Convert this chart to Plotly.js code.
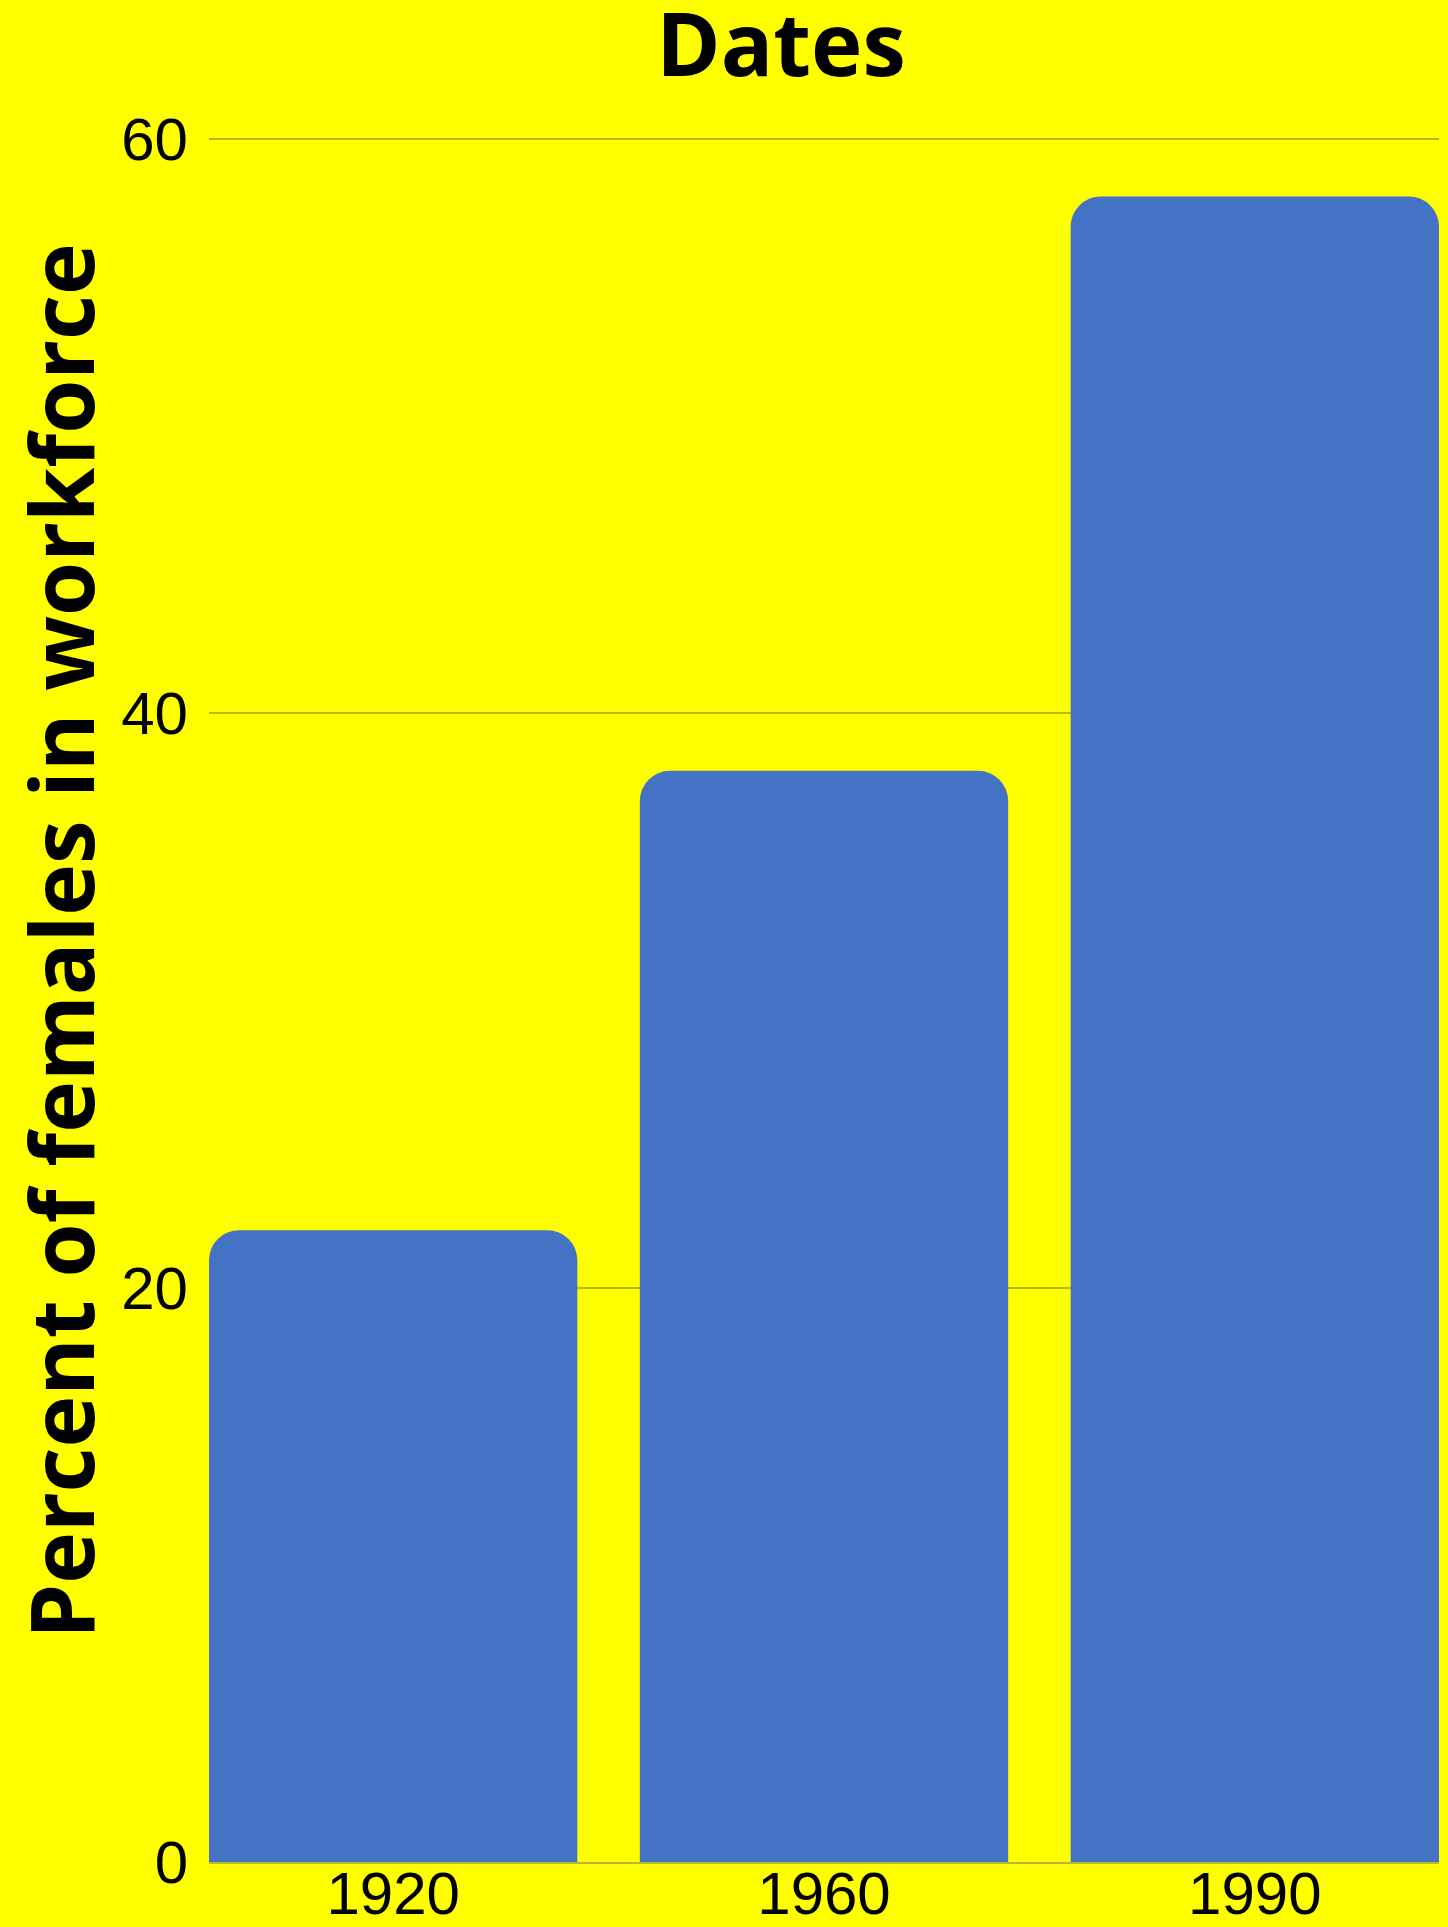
<!DOCTYPE html>
<html>
<head>
<meta charset="utf-8">
<script src="https://cdn.plot.ly/plotly-3.0.1.min.js"></script>
<style>html,body{margin:0;padding:0;background:#ffff00;}#chart{width:1448px;height:1927px;}</style>
</head>
<body>
<div id="chart"></div>
<script>
const categories = ['1920', '1960', '1990'];
const percentValues = [22, 38, 58];
const yTickValues = [0, 20, 40, 60];
const chartTitle = 'Dates';
const yAxisTitle = 'Percent of females in workforce';

const trace = {
  type: 'bar',
  x: categories,
  y: percentValues,
  marker: { color: '#4472C4', cornerradius: 30 },
  hoverinfo: 'x+y'
};

const layout = {
  width: 1448,
  height: 1927,
  paper_bgcolor: '#ffff00',
  plot_bgcolor: '#ffff00',
  margin: { l: 209, r: 9, t: 20, b: 65 },
  bargap: 0.145,
  showlegend: false,
  title: {
    text: '<b>' + chartTitle + '</b>',
    font: { family: 'Open Sans', size: 87, color: '#000000', weight: 800 },
    x: 781 / 1448,
    xanchor: 'center',
    xref: 'container',
    yref: 'container',
    y: 1 - 46 / 1927,
    yanchor: 'middle'
  },
  xaxis: {
    type: 'category',
    range: [-0.4275, 2.4275],
    showgrid: false,
    showline: true,
    linecolor: '#b8b82a',
    linewidth: 2,
    ticks: '',
    tickfont: { family: 'Liberation Sans, Arial, sans-serif', size: 60, color: '#000000' },
    ticklabelstandoff: -22
  },
  yaxis: {
    range: [0, 64.15],
    tickvals: yTickValues,
    ticktext: yTickValues.map(String),
    showgrid: true,
    gridcolor: '#b8b800',
    gridwidth: 2,
    zeroline: false,
    showline: false,
    ticks: '',
    tickfont: { family: 'Liberation Sans, Arial, sans-serif', size: 60, color: '#000000' },
    ticklabelstandoff: 20,
    automargin: false,
    title: {
      text: '<b>' + yAxisTitle + '</b>',
      font: { family: 'Open Sans', size: 87.5, color: '#000000', weight: 800 },
      standoff: 6
    }
  }
};

Plotly.newPlot('chart', [trace], layout, { staticPlot: true, displayModeBar: false });
</script>
</body>
</html>
